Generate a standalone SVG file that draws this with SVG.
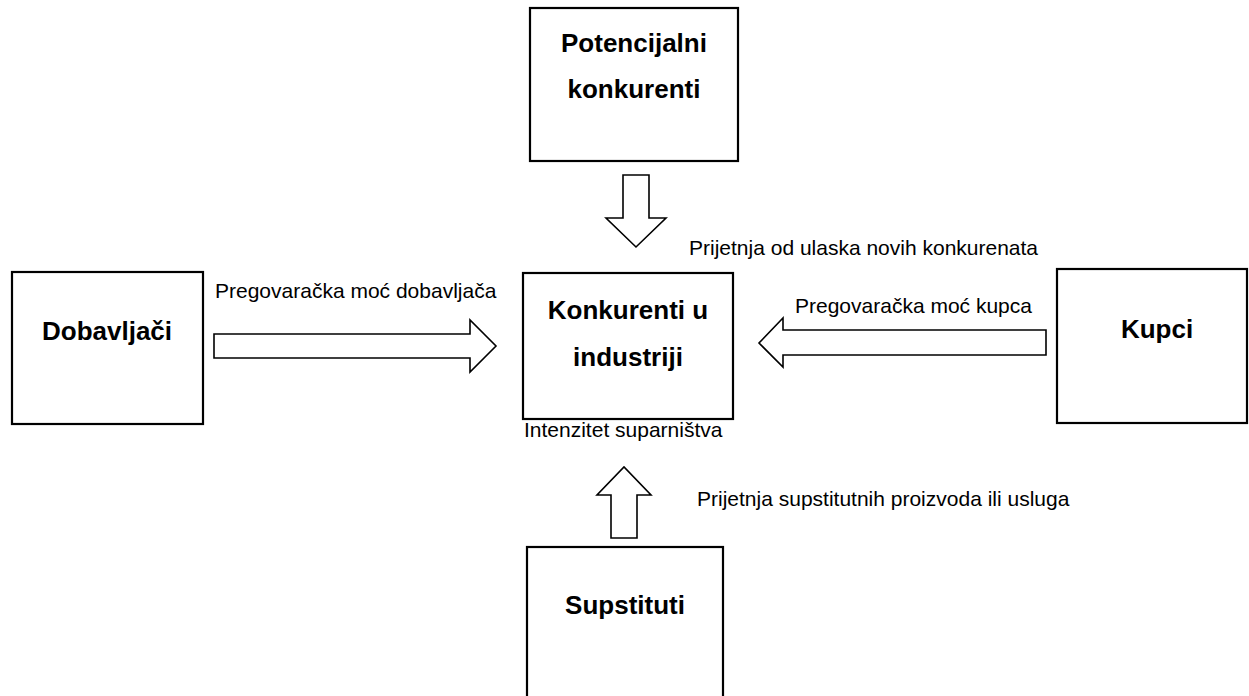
<svg xmlns="http://www.w3.org/2000/svg" width="1249" height="696" viewBox="0 0 1249 696">
<style>
.box{fill:#fff;stroke:#000;stroke-width:2.2}
.arr{fill:#fff;stroke:#000;stroke-width:1.6;stroke-linejoin:miter}
.t{font-family:"Liberation Sans",Arial,sans-serif;font-size:26px;font-weight:bold;fill:#000;text-anchor:middle}
.l{font-family:"Liberation Sans",Arial,sans-serif;font-size:21px;fill:#000}
</style>
<rect width="1249" height="696" fill="#fff"/>
<g id="connectors">
<polygon class="arr" points="623,175 649,175 649,218 666,218 636,247 606,218 623,218"/>
<polygon class="arr" points="214,334 470,334 470,320 496,346 470,372 470,358 214,358"/>
<polygon class="arr" points="1046,330 783,330 783,318 759,343 783,367 783,355 1046,355"/>
<polygon class="arr" points="611,538 611,495 597,495 624,467 651,495 637,495 637,538"/>
<text class="l" x="689" y="255">Prijetnja od ulaska novih konkurenata</text>
<text class="l" x="215" y="298">Pregovaračka moć dobavljača</text>
<text class="l" x="795" y="313">Pregovaračka moć kupca</text>
<text class="l" x="697" y="506">Prijetnja supstitutnih proizvoda ili usluga</text>
</g>
<g id="potencijalni">
<rect class="box" x="530" y="8" width="208" height="153"/>
<text class="t" x="634" y="52">Potencijalni</text>
<text class="t" x="634" y="98">konkurenti</text>
</g>
<g id="dobavljaci">
<rect class="box" x="12" y="272" width="191" height="152"/>
<text class="t" x="107" y="340">Dobavljači</text>
</g>
<g id="konkurenti">
<rect class="box" x="523" y="273" width="210" height="146"/>
<text class="t" x="628" y="319">Konkurenti u</text>
<text class="t" x="628" y="366">industriji</text>
<text class="l" x="524" y="437">Intenzitet suparništva</text>
</g>
<g id="kupci">
<rect class="box" x="1057" y="269" width="190" height="154"/>
<text class="t" x="1157" y="338">Kupci</text>
</g>
<g id="supstituti">
<rect class="box" x="527" y="547" width="196" height="160"/>
<text class="t" x="625" y="614">Supstituti</text>
</g>
</svg>
